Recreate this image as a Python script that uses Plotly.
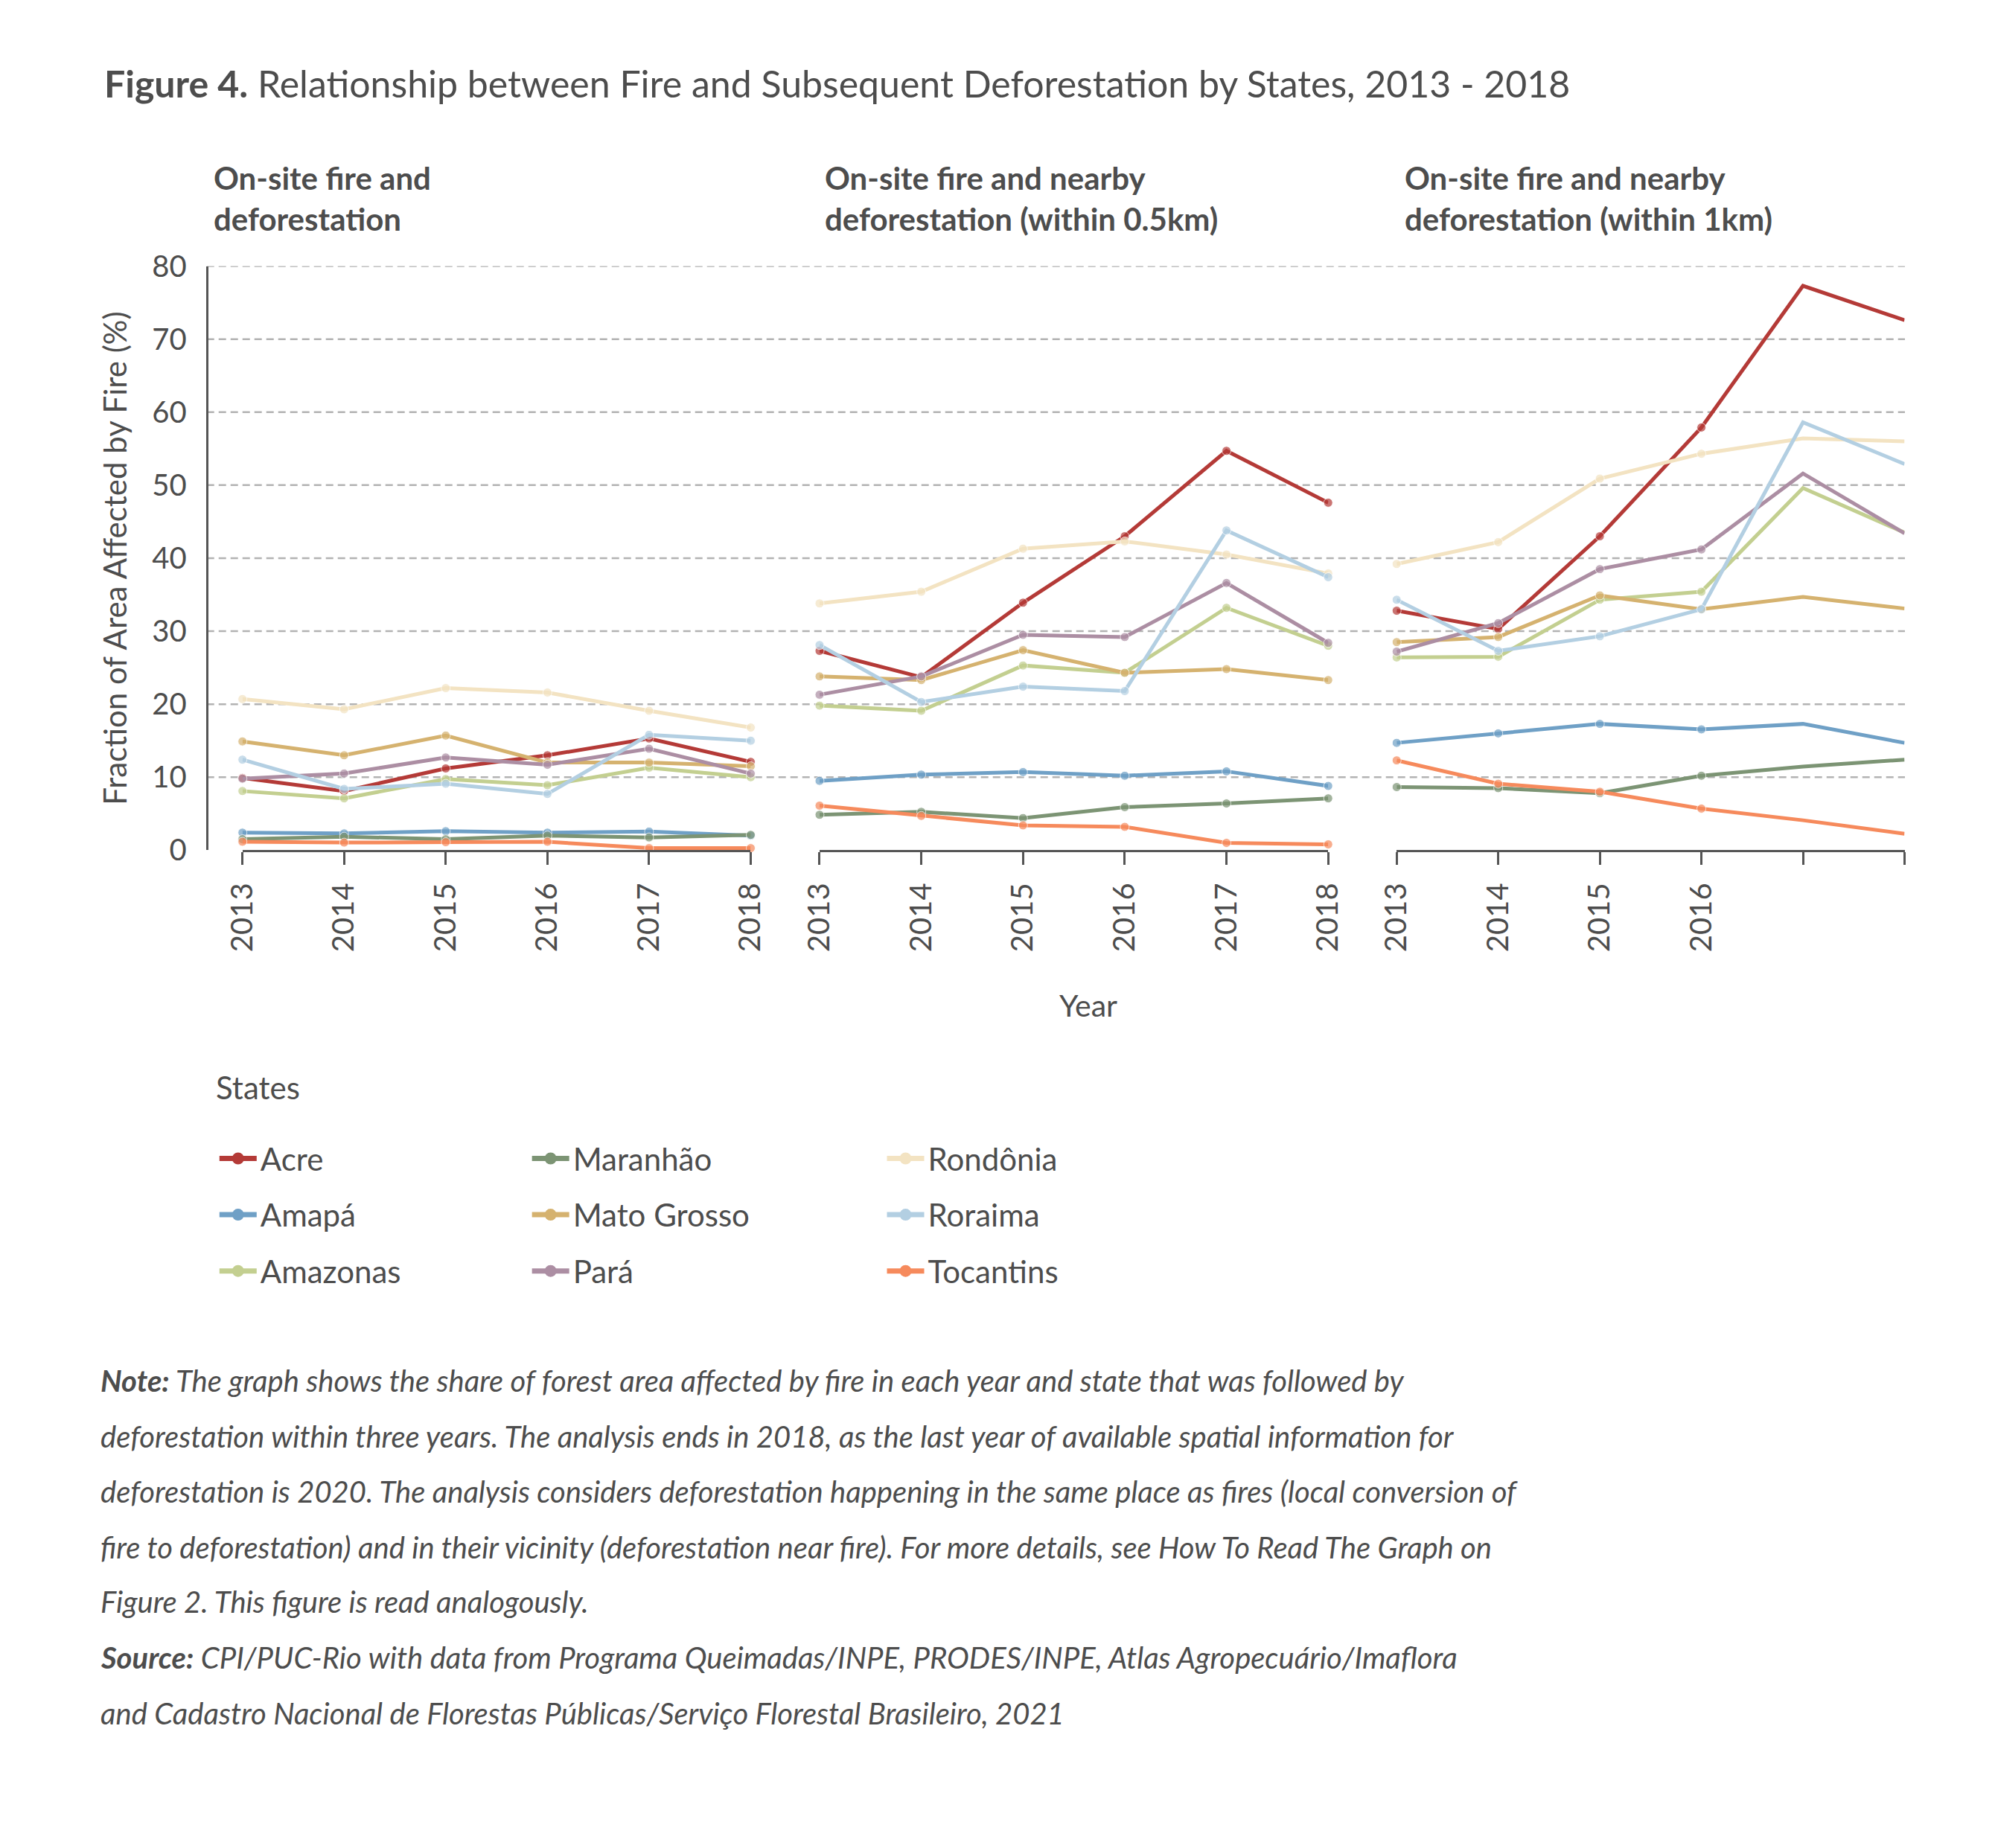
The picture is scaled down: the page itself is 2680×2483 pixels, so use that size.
import plotly.graph_objects as go

W, H = 2680, 2483

years = [2013, 2014, 2015, 2016, 2017, 2018]
year_labels_full = ["2013", "2014", "2015", "2016", "2017", "2018"]
year_labels_p3 = ["2013", "2014", "2015", "2016", "", ""]
y_ticks = [0, 10, 20, 30, 40, 50, 60, 70, 80]

states = ["Acre", "Amapá", "Amazonas", "Maranhão", "Mato Grosso",
          "Pará", "Rondônia", "Roraima", "Tocantins"]

colors = {
    "Acre": "#b43a37",
    "Amapá": "#6fa0c6",
    "Amazonas": "#c3cf90",
    "Maranhão": "#7c9474",
    "Mato Grosso": "#d5b26f",
    "Pará": "#ac8ea3",
    "Rondônia": "#f3e3c2",
    "Roraima": "#b3cfe2",
    "Tocantins": "#f68a5c",
}

# Panel 1: on-site fire and deforestation
onsite = {
    "Acre":        [9.9, 8.1, 11.2, 13.0, 15.3, 12.1],
    "Amapá":       [2.4, 2.3, 2.6, 2.4, 2.55, 2.0],
    "Amazonas":    [8.1, 7.1, 9.75, 8.9, 11.3, 10.0],
    "Maranhão":    [1.5, 1.85, 1.5, 2.0, 1.75, 2.1],
    "Mato Grosso": [14.9, 13.0, 15.7, 12.0, 12.0, 11.5],
    "Pará":        [9.8, 10.5, 12.7, 11.7, 13.9, 10.5],
    "Rondônia":    [20.7, 19.3, 22.2, 21.6, 19.1, 16.8],
    "Roraima":     [12.4, 8.4, 9.1, 7.7, 15.8, 15.0],
    "Tocantins":   [1.16, 1.04, 1.1, 1.16, 0.28, 0.28],
}

# Panel 2: on-site fire and nearby deforestation (within 0.5km)
near05 = {
    "Acre":        [27.3, 23.7, 33.9, 43.0, 54.7, 47.6],
    "Amapá":       [9.5, 10.35, 10.7, 10.2, 10.8, 8.8],
    "Amazonas":    [19.8, 19.1, 25.3, 24.3, 33.2, 28.0],
    "Maranhão":    [4.85, 5.25, 4.4, 5.9, 6.4, 7.1],
    "Mato Grosso": [23.8, 23.3, 27.4, 24.3, 24.8, 23.3],
    "Pará":        [21.3, 23.8, 29.5, 29.2, 36.6, 28.4],
    "Rondônia":    [33.8, 35.4, 41.3, 42.3, 40.5, 37.9],
    "Roraima":     [28.1, 20.3, 22.4, 21.8, 43.8, 37.4],
    "Tocantins":   [6.1, 4.7, 3.4, 3.2, 1.0, 0.8],
}

# Panel 3: on-site fire and nearby deforestation (within 1km)
near1 = {
    "Acre":        [32.8, 30.3, 43.0, 57.9, 77.3, 72.6],
    "Amapá":       [14.7, 16.0, 17.3, 16.55, 17.3, 14.7],
    "Amazonas":    [26.4, 26.5, 34.3, 35.4, 49.6, 43.5],
    "Maranhão":    [8.65, 8.5, 7.8, 10.2, 11.45, 12.4],
    "Mato Grosso": [28.5, 29.2, 34.9, 33.0, 34.7, 33.1],
    "Pará":        [27.2, 31.1, 38.5, 41.2, 51.6, 43.4],
    "Rondônia":    [39.2, 42.2, 50.9, 54.3, 56.4, 56.0],
    "Roraima":     [34.3, 27.3, 29.3, 33.0, 58.6, 52.9],
    "Tocantins":   [12.3, 9.1, 8.0, 5.7, 4.1, 2.26],
}

panel_titles = [
    "On-site fire and<br>deforestation",
    "On-site fire and nearby<br>deforestation (within 0.5km)",
    "On-site fire and nearby<br>deforestation (within 1km)",
]

legend_columns = [
    ["Acre", "Amapá", "Amazonas"],
    ["Maranhão", "Mato Grosso", "Pará"],
    ["Rondônia", "Roraima", "Tocantins"],
]

FONT = "Lato"
TXT = "#4d4d4d"
AX = "#555555"

# the captured page shows the figure slightly reduced and offset;
# positions below are given in target-image pixels and mapped back.
OX, OY, KX, KY = 34.2, 30.8, 0.9824, 0.981


def px(r):
    return ((r - OX) / KX) / W


def py(r):
    return 1 - ((r - OY) / KY) / H


fig = go.Figure()

panels = [(onsite, "x", None), (near05, "x2", None), (near1, "x3", 4)]
for data, xa, nmark in panels:
    for s in states:
        sizes = [12] * len(years)
        if nmark is not None:
            sizes = [12 if i < nmark else 0 for i in range(len(years))]
        fig.add_trace(go.Scatter(
            x=years, y=data[s], xaxis=xa, yaxis="y",
            mode="lines+markers", name=s, showlegend=False,
            line=dict(color=colors[s], width=5),
            marker=dict(color=colors[s], size=sizes),
            cliponaxis=False,
        ))

# legend entries (three columns)
legend_ids = ["legend", "legend2", "legend3"]
for lid, col in zip(legend_ids, legend_columns):
    for s in col:
        fig.add_trace(go.Scatter(
            x=[None], y=[None], xaxis="x", yaxis="y",
            mode="lines+markers", name=s, legend=lid, legendgroup=s,
            line=dict(color=colors[s], width=7),
            marker=dict(color=colors[s], size=16),
        ))

dom_y = [py(1140.5), py(355.5)]
x_domains = [(326, 1009), (1101.5, 1785), (1877, 2559.5)]

layout = dict(
    width=W, height=H,
    margin=dict(l=0, r=0, t=0, b=0),
    paper_bgcolor="white", plot_bgcolor="rgba(0,0,0,0)",
    font=dict(family=FONT, color=TXT, size=40),
    yaxis=dict(
        domain=dom_y, range=[0, 80], anchor="free", position=px(278),
        tickvals=y_ticks, ticktext=[str(v) for v in y_ticks],
        showgrid=False, zeroline=False, showline=True, linecolor=AX,
        linewidth=3, ticks="", ticklabelstandoff=18,
        tickfont=dict(size=40, color=TXT),
    ),
)
for i, (a, b) in enumerate(x_domains):
    key = "xaxis" if i == 0 else "xaxis%d" % (i + 1)
    layout[key] = dict(
        domain=[px(a), px(b)], range=[2013, 2018], anchor="y",
        tickvals=years,
        ticktext=year_labels_p3 if i == 2 else year_labels_full,
        tickangle=-90, ticks="outside", ticklen=17, tickwidth=3,
        tickcolor=AX, showline=True, linecolor=AX, linewidth=3,
        showgrid=False, zeroline=False, ticklabelstandoff=8,
        tickfont=dict(size=40, color=TXT),
    )

ITEMW = 50
legend_text_x = [350, 770, 1247]
for lid, tx in zip(legend_ids, legend_text_x):
    left_px = (tx - OX) / KX - (ITEMW + 11)
    layout[lid] = dict(
        x=left_px / W, xanchor="left", y=py(1521), yanchor="top",
        orientation="v", bgcolor="rgba(0,0,0,0)", borderwidth=0,
        font=dict(size=42, color=TXT, family=FONT), itemwidth=ITEMW,
        tracegroupgap=18, itemclick=False, itemdoubleclick=False,
    )

fig.update_layout(**layout)

# gridlines across all panels
for v in y_ticks[1:]:
    fig.add_shape(type="line", xref="paper", yref="y",
                  x0=px(278), x1=px(2560), y0=v, y1=v, layer="below",
                  line=dict(color="#b3b3b3", width=2.5, dash="10px,6px"))

ann = []
ann.append(dict(
    text="<b>Figure 4.</b> Relationship between Fire and Subsequent Deforestation by States, 2013 - 2018",
    x=px(138), y=py(110), xref="paper", yref="paper", xanchor="left",
    yanchor="middle", showarrow=False, font=dict(size=50, color=TXT)))
for t, xx in zip(panel_titles, [285, 1107, 1886]):
    ann.append(dict(text="<b>%s</b>" % t, x=px(xx), y=py(264),
                    xref="paper", yref="paper", xanchor="left",
                    yanchor="middle", align="left", showarrow=False,
                    font=dict(size=42, color=TXT)))
ann.append(dict(text="Fraction of Area Affected by Fire (%)", x=px(154),
                y=(dom_y[0] + dom_y[1]) / 2, xref="paper", yref="paper",
                xanchor="center", yanchor="middle",
                textangle=-90, showarrow=False,
                font=dict(size=42, color=TXT)))
ann.append(dict(text="Year", x=px(1463), y=py(1349), xref="paper",
                yref="paper", xanchor="center", yanchor="middle",
                showarrow=False, font=dict(size=41, color=TXT)))
ann.append(dict(text="States", x=px(288), y=py(1459), xref="paper",
                yref="paper", xanchor="left", yanchor="middle",
                showarrow=False, font=dict(size=42, color=TXT)))

note_lines = [
    "<b>Note:</b> The graph shows the share of forest area affected by fire in each year and state that was followed by",
    "deforestation within three years. The analysis ends in 2018, as the last year of available spatial information for",
    "deforestation is 2020. The analysis considers deforestation happening in the same place as fires (local conversion of",
    "fire to deforestation) and in their vicinity (deforestation near fire). For more details, see How To Read The Graph on",
    "Figure 2. This figure is read analogously.",
    "<b>Source:</b> CPI/PUC-Rio with data from Programa Queimadas/INPE, PRODES/INPE, Atlas Agropecuário/Imaflora",
    "and Cadastro Nacional de Florestas Públicas/Serviço Florestal Brasileiro, 2021",
]
note_y = [1853, 1928, 2002, 2077, 2151, 2226, 2301]
for t, yy in zip(note_lines, note_y):
    ann.append(dict(text="<i>%s</i>" % t, x=px(133), y=py(yy), xref="paper",
                    yref="paper", xanchor="left", yanchor="middle",
                    showarrow=False, font=dict(size=40, color=TXT)))

fig.update_layout(annotations=ann)

fig.write_html("out.html")
